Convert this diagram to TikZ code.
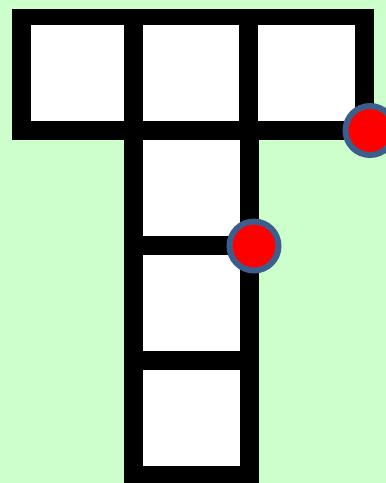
\documentclass[tikz,border=0pt]{standalone}
\definecolor{bg}{RGB}{204,255,204}
\definecolor{ring}{RGB}{59,94,140}
\begin{document}
\begin{tikzpicture}[x=1pt,y=-1pt,
  cell/.style={fill=white},
  dot/.style={circle,fill=red,draw=ring,line width=6pt,minimum size=49pt,inner sep=0pt}]
\useasboundingbox (0,0) rectangle (386,483);
\clip (0,0) rectangle (386,483);
\fill[bg] (0,0) rectangle (386,483);
% black T
\fill[black] (12,9) rectangle (374,140);
\fill[black] (124,140) rectangle (259,483);
% white cells
\fill[cell] (31,25) rectangle (124,121);
\fill[cell] (143,25) rectangle (239,121);
\fill[cell] (258,25) rectangle (355,121);
\fill[cell] (143,140) rectangle (240,236);
\fill[cell] (143,255) rectangle (240,351);
\fill[cell] (143,370) rectangle (240,466);
% dots
\node[dot] (d1) at (370,130.5) {};
\node[dot] (d2) at (254,246) {};
\end{tikzpicture}
\end{document}
